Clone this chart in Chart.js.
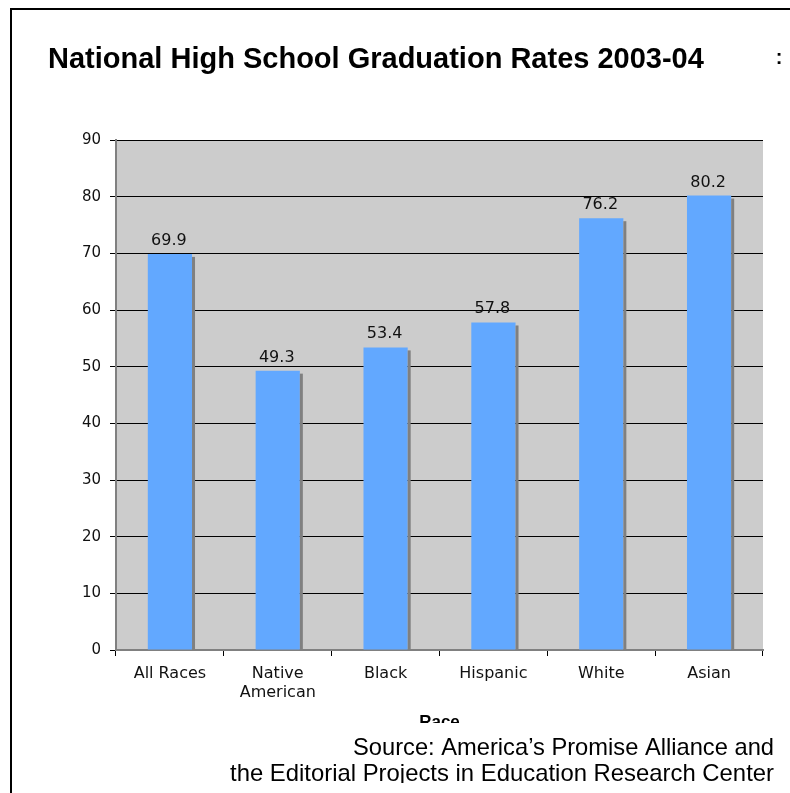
<!DOCTYPE html>
<html>
<head>
<meta charset="utf-8">
<script src="https://cdn.jsdelivr.net/npm/chart.js@4.4.1/dist/chart.umd.min.js"></script>
<style>
  html, body { margin: 0; padding: 0; background: #ffffff; }
  #wrap { width: 790px; height: 793px; position: relative; }
</style>
</head>
<body>
<div id="wrap"><canvas id="c" width="790" height="793"></canvas></div>
<script>
const categories = ['All Races', ['Native', 'American'], 'Black', 'Hispanic', 'White', 'Asian'];
const rates = [69.9, 49.3, 53.4, 57.8, 76.2, 80.2];
const yTicks = [0, 10, 20, 30, 40, 50, 60, 70, 80, 90];
const chartTitle = 'National High School Graduation Rates 2003-04';
const xAxisTitle = 'Race';
const sourceLines = ['Source: America\u2019s Promise Alliance and', 'the Editorial Projects in Education Research Center'];

const decorPlugin = {
  id: 'decor',
  beforeDraw(chart) {
    const { ctx, chartArea: a } = chart;
    ctx.save();
    ctx.fillStyle = '#ffffff';
    ctx.fillRect(0, 0, chart.width, chart.height);
    ctx.fillStyle = '#cccccc';
    ctx.fillRect(a.left, a.top, a.right - a.left, a.bottom - a.top);
    ctx.restore();
  },
  afterDatasetsDraw(chart) {
    const { ctx } = chart;
    const meta = chart.getDatasetMeta(0);
    ctx.save();
    meta.data.forEach((bar, i) => {
      const p = bar.getProps(['x', 'y', 'base', 'width'], true);
      ctx.fillStyle = '#808080';
      ctx.fillRect(p.x + p.width / 2, p.y + 3, 3, p.base - p.y - 3);
      ctx.fillStyle = '#111111';
      ctx.font = '16px "DejaVu Sans"';
      ctx.textAlign = 'center';
      ctx.textBaseline = 'alphabetic';
      ctx.fillText(rates[i].toFixed(1), p.x - 1, p.y - 9);
    });
    ctx.restore();
  },
  afterDraw(chart) {
    const { ctx, chartArea: a } = chart;
    ctx.save();
    ctx.strokeStyle = '#000000';
    ctx.lineWidth = 2;
    ctx.beginPath();
    ctx.moveTo(11, 793);
    ctx.lineTo(11, 9);
    ctx.lineTo(790, 9);
    ctx.stroke();
    ctx.fillStyle = '#000000';
    ctx.font = 'bold 29px "Liberation Sans", Arial, sans-serif';
    ctx.textAlign = 'left';
    ctx.textBaseline = 'alphabetic';
    ctx.fillText(chartTitle, 48, 68, 661);
    ctx.font = 'bold 20px "Liberation Sans", Arial, sans-serif';
    ctx.textAlign = 'center';
    ctx.fillText(':', 779, 64);
    ctx.save();
    ctx.beginPath();
    ctx.rect(0, 700, 790, 23);
    ctx.clip();
    ctx.font = 'bold 17px "Liberation Sans", Arial, sans-serif';
    ctx.textAlign = 'center';
    ctx.fillText(xAxisTitle, (a.left + a.right) / 2, 727);
    ctx.restore();
    ctx.save();
    ctx.beginPath();
    ctx.rect(0, 723, 790, 60);
    ctx.clip();
    ctx.font = '24px "Liberation Sans", Arial, sans-serif';
    ctx.textAlign = 'right';
    ctx.fillText(sourceLines[0], 774, 755, 421);
    ctx.fillText(sourceLines[1], 774, 781, 544);
    ctx.restore();
    ctx.restore();
  }
};

new Chart(document.getElementById('c'), {
  type: 'bar',
  data: {
    labels: categories,
    datasets: [{
      data: rates,
      backgroundColor: '#62a8ff',
      borderWidth: 0,
      barPercentage: 0.41,
      categoryPercentage: 1.0
    }]
  },
  options: {
    responsive: false,
    animation: false,
    devicePixelRatio: 1,
    layout: { padding: { left: 0, top: 140, right: 27, bottom: 0 } },
    plugins: {
      legend: { display: false },
      title: { display: false },
      tooltip: { enabled: false }
    },
    scales: {
      x: {
        grid: {
          display: true,
          drawOnChartArea: false,
          drawTicks: true,
          tickLength: 6,
          tickColor: '#000000',
          offset: true
        },
        border: { display: true, color: '#808080', width: 2 },
        ticks: {
          color: '#111111',
          font: { family: '"DejaVu Sans"', size: 16, lineHeight: 1.19 },
          padding: 8,
          maxRotation: 0,
          autoSkip: false
        },
        afterFit(scale) { scale.height = 143; }
      },
      y: {
        min: 0,
        max: 90,
        afterBuildTicks(scale) { scale.ticks = yTicks.map(v => ({ value: v })); },
        grid: {
          color: '#000000',
          lineWidth: 1,
          tickLength: 6,
          tickColor: '#000000'
        },
        border: { display: true, color: '#808080', width: 2 },
        ticks: {
          color: '#111111',
          font: { family: '"DejaVu Sans"', size: 15 },
          padding: 9
        },
        afterFit(scale) { scale.width = 116; }
      }
    }
  },
  plugins: [decorPlugin]
});
</script>
</body>
</html>
